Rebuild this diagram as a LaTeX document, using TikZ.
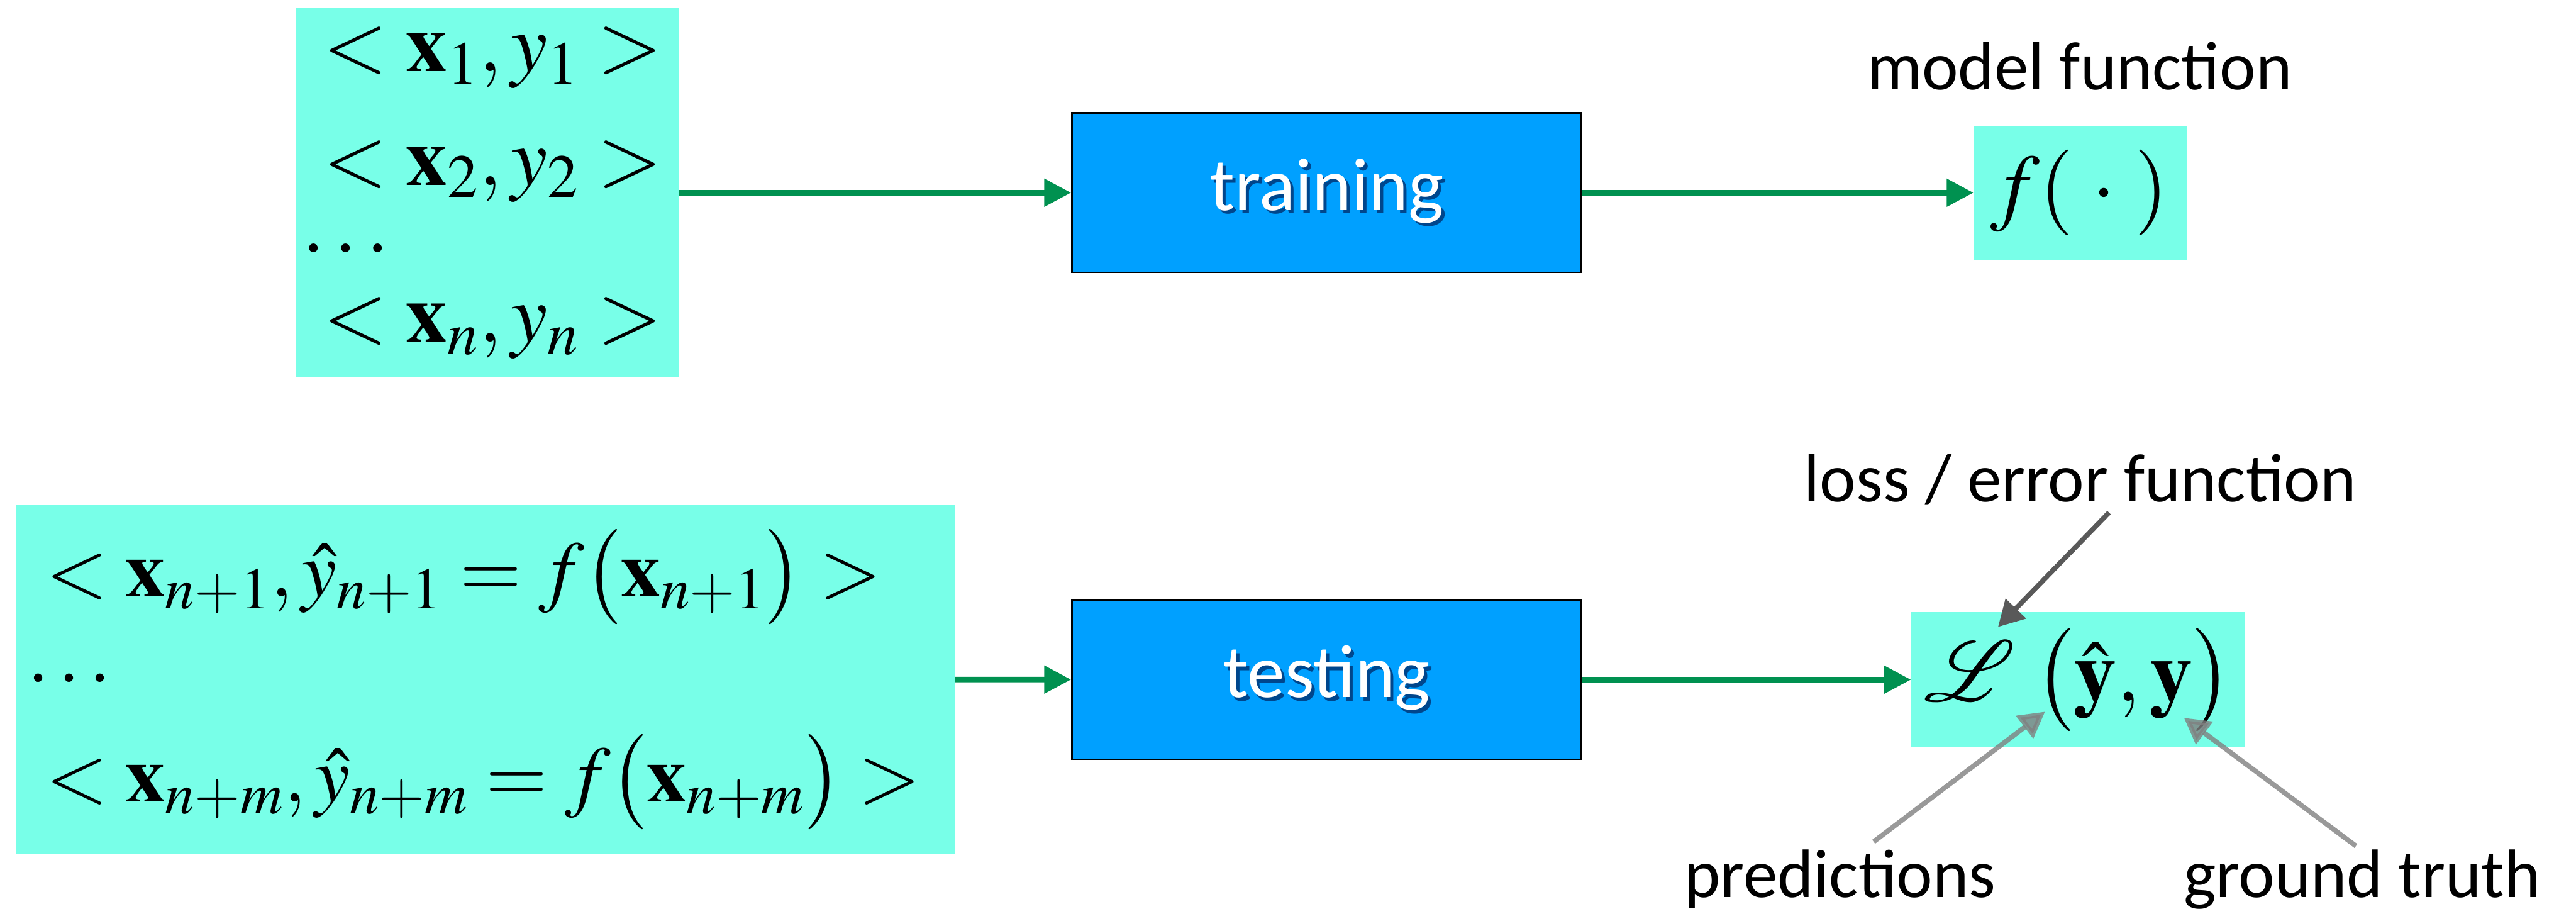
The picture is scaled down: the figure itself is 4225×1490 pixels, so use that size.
\documentclass[tikz,border=0pt]{standalone}
\usepackage{amsmath}
\usepackage[no-math]{fontspec}
\usepackage{mathptmx}
\usepackage{mathrsfs}
\DeclareFontFamily{U}{rsfs}{\skewchar\font127 }
\DeclareFontShape{U}{rsfs}{m}{n}{<-6> rsfs5 <6-8> rsfs7 <8-> rsfs10}{}
\newfontfamily\labelfont{Carlito}
\usetikzlibrary{arrows.meta, positioning}

\definecolor{aqua}{RGB}{120,255,232}
\definecolor{procblue}{RGB}{0,160,255}
\definecolor{flowgreen}{RGB}{0,145,80}
\definecolor{shadeblue}{RGB}{0,70,140}
\definecolor{darkpointer}{RGB}{89,89,89}
\definecolor{lightpointer}{RGB}{128,128,128}

\newcommand{\glow}[1]{\rlap{\color{shadeblue}\kern1.5pt\raisebox{-1.5pt}{#1}}#1}

\tikzstyle{dataset} = [rectangle, fill=aqua, align=left]
\tikzstyle{process} = [rectangle, minimum width=8.35cm, minimum height=2.61cm, draw=black, line width=0.8pt, fill=procblue, text=white, font=\labelfont\fontsize{35}{42}\selectfont]
\tikzstyle{result} = [rectangle, fill=aqua, font=\fontsize{40}{40}\selectfont]
\tikzstyle{caption} = [anchor=base, inner sep=0pt, font=\labelfont\fontsize{32}{38}\selectfont]
\tikzstyle{arrow} = [line width=0.09cm, draw=flowgreen, -{Triangle[length=0.44cm, width=0.44cm]}]
\tikzstyle{pointer} = [line width=0.08cm, -{Triangle[length=0.42cm, width=0.45cm]}]

\begin{document}
\begin{tikzpicture}[x=0.01cm, y=-0.01cm, node distance=12.36cm]
\useasboundingbox (0,0) rectangle (4225,1490);

% training row
\node (trainset) [dataset, font=\fontsize{38.5}{40}\selectfont, minimum width=6.28cm, minimum height=6.04cm, inner xsep=0.11cm, text width=6.06cm] at (799,316)
  {\hspace*{0.35cm}$<\mathbf{x}_1,y_1>$\\[12.9pt]
   \hspace*{0.35cm}$<\mathbf{x}_2,y_2>$\\[-8.6pt]
   $\ldots$\\[1.7pt]
   \hspace*{0.35cm}$<\mathbf{x}_n,y_n>$};
\node (training) [process, right of=trainset, xshift=1.4cm] {\glow{training}};
\node (model) [result, right of=training, minimum width=3.5cm, minimum height=2.19cm, inner xsep=0.27cm, text width=2.96cm, align=left] {$f(\;\cdot\;)$};
\node (modelname) [caption] at (3411,147) {model function};

% testing row
\node (testset) [dataset, font=\fontsize{37}{40}\selectfont, minimum width=15.39cm, minimum height=5.71cm, inner xsep=0.19cm, text width=15.01cm] at (796,1114)
  {\hspace*{0.31cm}\mbox{$<\mathbf{x}_{n+1},\hat{y}_{n+1}=f\bigl(\mathbf{x}_{n+1}\bigr)>$}\\[-0.1pt]
   $\ldots$\\[15.8pt]
   \hspace*{0.31cm}\mbox{$<\mathbf{x}_{n+m},\hat{y}_{n+m}=f\bigl(\mathbf{x}_{n+m}\bigr)>$}};
\node (testing) [process, node distance=7.98cm, below of=training] {\glow{testing}};
\node (loss) [result, right of=testing, xshift=-0.04cm, minimum width=5.47cm, minimum height=2.21cm] {$\mathscr{L}\;\bigl(\hat{\mathbf{y}},\mathbf{y}\bigr)$};
\node (lossname) [caption] at (3412,823) {loss / error function};
\node (predname) [caption] at (3018,1471) {predictions};
\node (truthname) [caption] at (3874,1471) {ground truth};

\coordinate (losstip) at (3277,1028);
\coordinate (predtip) at (3354,1167);
\coordinate (truthtip) at (3582,1177);

\draw [arrow] (trainset) -- (training);
\draw [arrow] (training) -- (model);
\draw [arrow] (testset) -- (testing);
\draw [arrow] (testing) -- (loss);

\draw [pointer, draw=darkpointer] ([xshift=0.47cm, yshift=-0.12cm]lossname.south) -- (losstip);
\draw [pointer, draw=lightpointer, opacity=0.8] ([xshift=0.55cm, yshift=0.12cm]predname.north) -- (predtip);
\draw [pointer, draw=lightpointer, opacity=0.8] ([xshift=-0.1cm, yshift=0.05cm]truthname.north) -- (truthtip);

\end{tikzpicture}
\end{document}
